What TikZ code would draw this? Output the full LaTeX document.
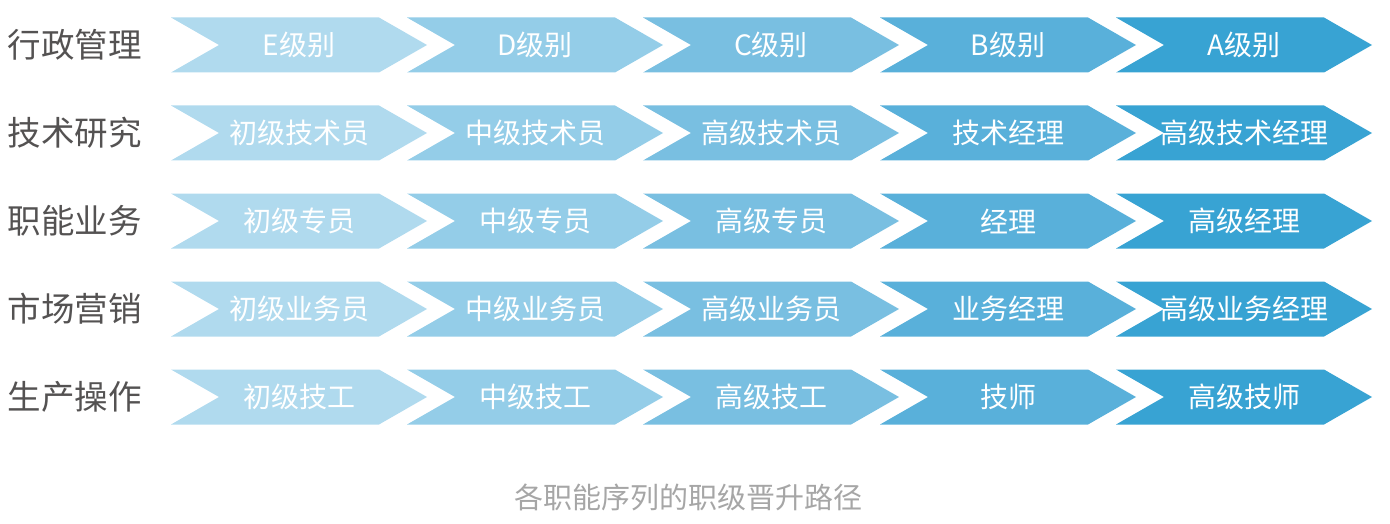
\documentclass[tikz,border=0pt]{standalone}
\usepackage{fontspec}
\setmainfont{Noto Sans CJK SC}
\definecolor{rankE}{RGB}{176,218,238}
\definecolor{rankD}{RGB}{148,205,232}
\definecolor{rankC}{RGB}{121,191,225}
\definecolor{rankB}{RGB}{89,176,218}
\definecolor{rankA}{RGB}{56,163,211}
\definecolor{seqgray}{RGB}{84,82,82}
\definecolor{capgray}{RGB}{166,166,166}
\tikzset{
  ranktext/.style={text=white, font=\fontsize{28}{30}\selectfont, inner sep=0pt},
  seqtext/.style={text=seqgray, font=\fontsize{33.5}{35}\selectfont, inner sep=0pt},
  captext/.style={text=capgray, font=\fontsize{29}{31}\selectfont, inner sep=0pt}
}
% chevron: name, left x, centre y, colour, text
\newcommand{\rankarrow}[5]{%
  \begin{scope}[shift={(#2,#3)}]
    \fill[#4] (0,-27.5) -- (208,-27.5) -- (256,0) -- (208,27.5) -- (0,27.5) -- (48,0) -- cycle;
    \node[ranktext] (#1) at (128,0) {#5};
  \end{scope}}
\begin{document}
\begin{tikzpicture}[x=1pt,y=-1pt]
  \useasboundingbox (0,0) rectangle (1390,524);

  % sequence names
  \node[seqtext] (adm) at (75,45) {行政管理};
  \node[seqtext] (tec) at (75,133) {技术研究};
  \node[seqtext] (fun) at (75,221) {职能业务};
  \node[seqtext] (mkt) at (75,309) {市场营销};
  \node[seqtext] (opr) at (75,397) {生产操作};

  % 行政管理
  \rankarrow{adm1}{171}{45}{rankE}{E级别}
  \rankarrow{adm2}{407}{45}{rankD}{D级别}
  \rankarrow{adm3}{643}{45}{rankC}{C级别}
  \rankarrow{adm4}{880}{45}{rankB}{B级别}
  \rankarrow{adm5}{1116}{45}{rankA}{A级别}

  % 技术研究
  \rankarrow{tec1}{171}{133}{rankE}{初级技术员}
  \rankarrow{tec2}{407}{133}{rankD}{中级技术员}
  \rankarrow{tec3}{643}{133}{rankC}{高级技术员}
  \rankarrow{tec4}{880}{133}{rankB}{技术经理}
  \rankarrow{tec5}{1116}{133}{rankA}{高级技术经理}

  % 职能业务
  \rankarrow{fun1}{171}{221}{rankE}{初级专员}
  \rankarrow{fun2}{407}{221}{rankD}{中级专员}
  \rankarrow{fun3}{643}{221}{rankC}{高级专员}
  \rankarrow{fun4}{880}{221}{rankB}{经理}
  \rankarrow{fun5}{1116}{221}{rankA}{高级经理}

  % 市场营销
  \rankarrow{mkt1}{171}{309}{rankE}{初级业务员}
  \rankarrow{mkt2}{407}{309}{rankD}{中级业务员}
  \rankarrow{mkt3}{643}{309}{rankC}{高级业务员}
  \rankarrow{mkt4}{880}{309}{rankB}{业务经理}
  \rankarrow{mkt5}{1116}{309}{rankA}{高级业务经理}

  % 生产操作
  \rankarrow{opr1}{171}{397}{rankE}{初级技工}
  \rankarrow{opr2}{407}{397}{rankD}{中级技工}
  \rankarrow{opr3}{643}{397}{rankC}{高级技工}
  \rankarrow{opr4}{880}{397}{rankB}{技师}
  \rankarrow{opr5}{1116}{397}{rankA}{高级技师}

  \node[captext] (cap) at (688,497) {各职能序列的职级晋升路径};
\end{tikzpicture}
\end{document}
